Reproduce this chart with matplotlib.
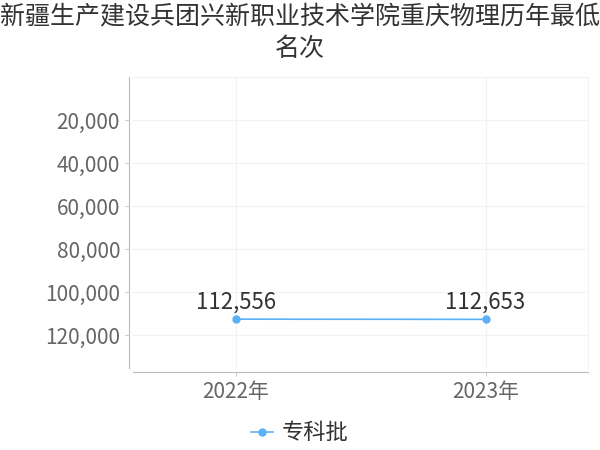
import matplotlib
matplotlib.use('Agg')
import matplotlib.pyplot as plt
from matplotlib.ticker import FuncFormatter

plt.rcParams['font.family'] = ['Noto Sans CJK SC', 'DejaVu Sans']

years = ['2022年', '2023年']
ranks = [112556, 112653]
series_name = '专科批'
title = '新疆生产建设兵团兴新职业技术学院重庆物理历年最低\n名次'
yticks = [20000, 40000, 60000, 80000, 100000, 120000]

line_color = '#5ab1f7'

fig = plt.figure(figsize=(6, 4.5), dpi=100)
ax = fig.add_axes([0.222, 0.182, 0.758, 0.647])

x = list(range(len(years)))
ax.plot(x, ranks, color=line_color, lw=1.2, marker='o', ms=5, label=series_name)
for xi, v in zip(x, ranks):
    ax.annotate(f'{v:,}', (xi, v), xytext=(0, 4), textcoords='offset points',
                ha='center', va='bottom', fontsize=16, color='#333333')

ax.set_xlim(-0.41, 1.41)
ax.set_ylim(135300, 0)
ax.set_xticks(x)
ax.set_xticklabels(years)
ax.set_yticks(yticks)
ax.yaxis.set_major_formatter(FuncFormatter(lambda v, p: f'{int(v):,}'))

ax.grid(True, color='#f2f2f2', lw=0.8)
ax.set_axisbelow(True)
for s in ['top', 'right']:
    ax.spines[s].set_color('#f2f2f2')
for s in ['left', 'bottom']:
    ax.spines[s].set_color('#bbbbbb')
    ax.spines[s].set_position(('outward', 3))
ax.tick_params(axis='both', labelsize=15, colors='#666666', length=3, width=0.8)
ax.tick_params(axis='both', color='#cccccc')

fig.suptitle(title, fontsize=18, color='#333333', y=0.99, linespacing=1.3)

fig.legend(loc='lower center', bbox_to_anchor=(0.5, -0.032), frameon=False,
           fontsize=16, handlelength=1.0, handletextpad=0.4,
           labelcolor='#333333')

fig.savefig('out.png', dpi=100)
